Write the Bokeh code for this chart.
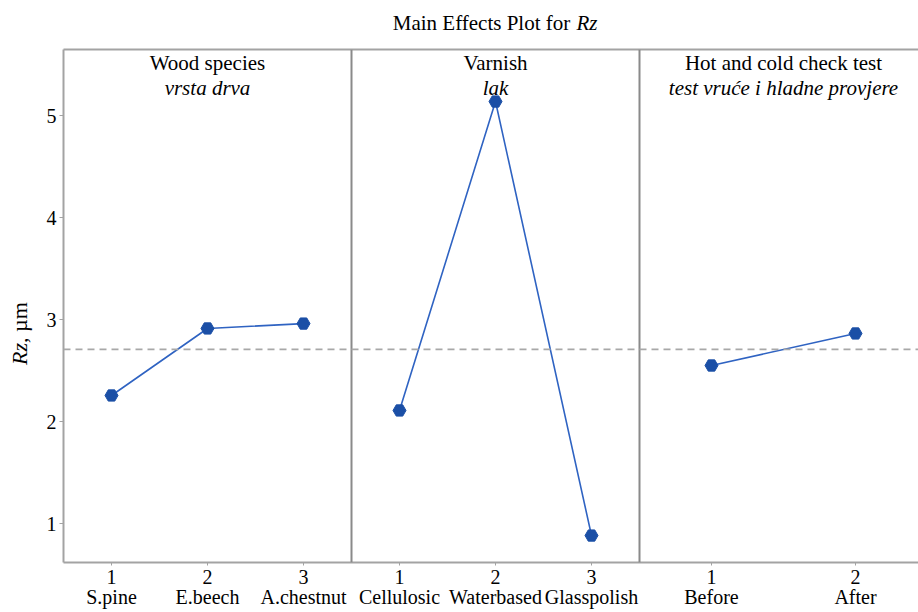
import math
from bokeh.plotting import figure
from bokeh.layouts import column, row
from bokeh.models import Span, LinearAxis, FixedTicker, Range1d
from bokeh.core.properties import value
from bokeh.embed import file_html
from bokeh.resources import INLINE

# --- data: mean Rz (µm) for each factor level ---
wood_levels = ["S.pine", "E.beech", "A.chestnut"]
wood_rz = [2.255, 2.912, 2.960]
varnish_levels = ["Cellulosic", "Waterbased", "Glasspolish"]
varnish_rz = [2.108, 5.137, 0.882]
check_levels = ["Before", "After"]
check_rz = [2.549, 2.863]

factor_titles = ["Wood species", "Varnish", "Hot and cold check test"]
factor_titles_hr = ["vrsta drva", "lak", "test vruće i hladne provjere"]
grand_mean = 2.707
y_ticks = [1, 2, 3, 4, 5]

SERIF = "Liberation Serif"
BLUE_LINE = "#2f63c2"
BLUE_DOT = "#1b4fa6"
FRAME = "#a3a3a3"
DIVIDER = "#8a8a8a"

# each factor gets a panel 3 x-units wide, levels spread evenly inside it
PANEL_W = 3.0
X0 = 0.5
factors = [
    (wood_levels, wood_rz),
    (varnish_levels, varnish_rz),
    (check_levels, check_rz),
]


def level_positions(k, n):
    step = PANEL_W / n
    return [X0 + k * PANEL_W + (i + 0.5) * step for i in range(n)]


# page layout (pixels): title strip on top, y-title strip on the left, chart frame
# from x=63 to the right edge and from y=49 to y=562
W, H = 918, 612
TITLE_H = 37
YLAB_W = 38
LEFT, TOP, BOTTOM = 63, 49, 562
PX_PER_X = 96.0      # px per x unit
PX_PER_Y = 102.0     # px per y unit
Y5_PX = 115          # y tick 5


def dy(py):
    return 5 - (py - Y5_PX) / PX_PER_Y


def strip(width, height):
    f = figure(width=width, height=height, x_range=Range1d(0, width), y_range=Range1d(0, height),
               x_axis_type=None, y_axis_type=None, output_backend="svg", toolbar_location=None,
               min_border=0)
    f.xgrid.visible = False
    f.ygrid.visible = False
    f.outline_line_color = None
    f.background_fill_color = "white"
    f.border_fill_color = "white"
    return f


TXT = dict(text_font=value(SERIF), text_font_size="21px", text_baseline="middle",
           text_color="black")

# ---- title strip: "Main Effects Plot for Rz" ----
title_fig = strip(W, TITLE_H)
ty = TITLE_H - 22
title_fig.text([575], [ty], text=["Main Effects Plot for "], text_align="right", **TXT)
title_fig.text([576], [ty], text=["Rz"], text_align="left", text_font_style="italic", **TXT)

# ---- y-title strip: "Rz, µm" ----
ylab_fig = strip(YLAB_W, H - TITLE_H)
ly = 246
YT = dict(TXT, text_font_size="22px")
ylab_fig.text([19], [ly], text=["Rz"], angle=math.pi / 2, text_align="right",
              text_font_style="italic", **YT)
ylab_fig.text([19], [ly], text=[", µm"], angle=math.pi / 2, text_align="left", **YT)

# ---- main chart ----
main_w = W - YLAB_W
main_h = H - TITLE_H
p = figure(
    width=main_w, height=main_h,
    x_range=Range1d(X0, X0 + (W - LEFT) / PX_PER_X), y_range=Range1d(dy(BOTTOM), dy(TOP)),
    output_backend="svg", toolbar_location=None,
    min_border_left=LEFT - YLAB_W, min_border_right=0, min_border_top=TOP - TITLE_H,
    min_border_bottom=H - BOTTOM,
)
p.xgrid.visible = False
p.ygrid.visible = False
p.outline_line_color = None
p.background_fill_color = "white"
p.border_fill_color = "white"

# y axis
yax = p.yaxis[0]
yax.ticker = FixedTicker(ticks=y_ticks)
yax.major_label_text_font = SERIF
yax.major_label_text_font_size = "20px"
yax.major_label_text_color = "black"
yax.axis_line_color = FRAME
yax.axis_line_width = 2
yax.major_tick_line_color = FRAME
yax.major_tick_in = 0
yax.major_tick_out = 4
yax.minor_tick_line_color = None
yax.major_label_standoff = 3

# x axis: level number with the level name below it
tick_pos = []
overrides = {}
for k, (levels, _) in enumerate(factors):
    for i, (xp, name) in enumerate(zip(level_positions(k, len(levels)), levels)):
        tick_pos.append(xp)
        overrides[xp] = f"{i + 1}\n{name}"
xax = p.xaxis[0]
xax.ticker = FixedTicker(ticks=tick_pos)
xax.major_label_overrides = overrides
xax.major_label_text_font = SERIF
xax.major_label_text_font_size = "20px"
xax.major_label_text_line_height = 0.95
xax.major_label_text_color = "black"
xax.axis_line_color = FRAME
xax.axis_line_width = 2
xax.major_tick_line_color = FRAME
xax.major_tick_in = 0
xax.major_tick_out = 3
xax.minor_tick_line_color = None
xax.major_label_standoff = 0

# top edge of the frame
top = LinearAxis(ticker=FixedTicker(ticks=[]), axis_line_color=FRAME, axis_line_width=2,
                 major_tick_line_color=None, minor_tick_line_color=None, major_tick_out=0,
                 major_label_standoff=0, major_label_text_font_size="0px")
p.add_layout(top, "above")

# panel dividers
for k in (1, 2):
    p.add_layout(Span(location=X0 + k * PANEL_W, dimension="height",
                      line_color=DIVIDER, line_width=2))

# grand mean reference line
p.add_layout(Span(location=grand_mean, dimension="width", line_color="#a8a8a8",
                  line_width=1.6, line_dash="7 5"))

# main-effect lines, points and panel headers
for k, (levels, rz) in enumerate(factors):
    xs = level_positions(k, len(levels))
    p.line(xs, rz, line_color=BLUE_LINE, line_width=1.6)
    p.scatter(xs, rz, marker="hex", size=13, fill_color=BLUE_DOT, line_color=BLUE_DOT)

    cx = X0 + k * PANEL_W + PANEL_W / 2
    p.text([cx], [dy(62)], text=[factor_titles[k]], text_align="center", **TXT)
    p.text([cx], [dy(87)], text=[factor_titles_hr[k]], text_align="center",
           text_font_style="italic", **TXT)

page = column(title_fig, row(ylab_fig, p, spacing=0), spacing=0)

open("out.html", "w").write(file_html(page, INLINE))
